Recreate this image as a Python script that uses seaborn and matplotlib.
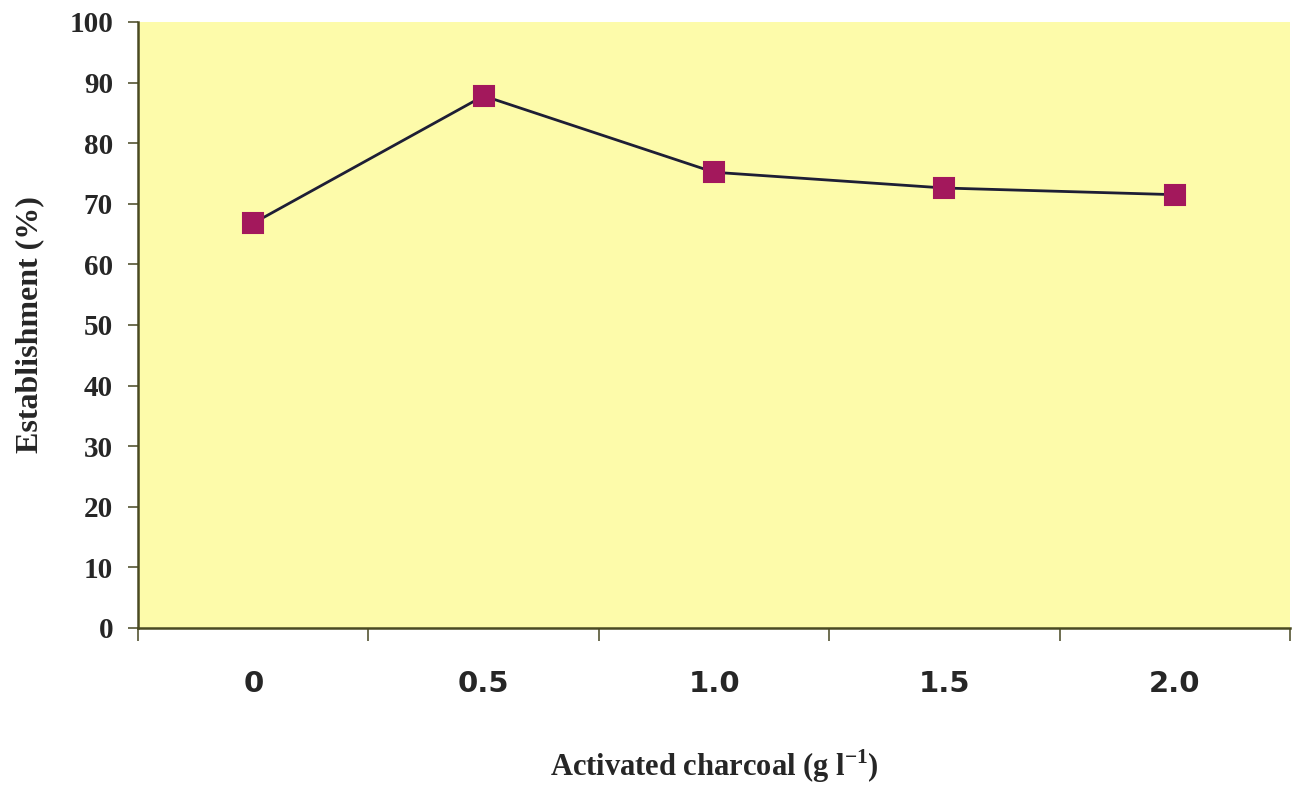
import matplotlib
matplotlib.use("Agg")
import matplotlib.pyplot as plt
import seaborn as sns
import pandas as pd
import numpy as np

categories = ["0", "0.5", "1.0", "1.5", "2.0"]
establishment = [66.8, 87.8, 75.2, 72.6, 71.5]
yticks = [0, 10, 20, 30, 40, 50, 60, 70, 80, 90, 100]

sns.set_style("white")
plt.rcParams['font.family'] = ['Liberation Serif', 'DejaVu Serif']

df = pd.DataFrame({"charcoal": categories, "est": establishment})

fig = plt.figure(figsize=(12.95, 7.93), dpi=100)
ax = fig.add_axes([0.1066, 0.2081, 0.8896, 0.7642])
ax.set_facecolor("#FDFBAA")

sns.pointplot(data=df, x="charcoal", y="est", order=categories, ax=ax,
              color="#1E1E35", markers="s", linestyles="-",
              markersize=15, linewidth=2.0,
              errorbar=None)
for coll in ax.collections:
    coll.set_facecolor("#A3185C")
    coll.set_edgecolor("#A3185C")
for line in ax.lines:
    line.set_markerfacecolor("#A3185C")
    line.set_markeredgecolor("#A3185C")

ax.set_xlim(-0.5, 4.5)
ax.set_ylim(0, 100)
ax.set_yticks(yticks)
ax.set_yticklabels([str(t) for t in yticks], fontsize=21, fontweight="bold",
                   family="Liberation Serif")
ax.set_xticks(range(len(categories)))
ax.set_xticklabels(categories, fontsize=21, fontweight="bold", family="DejaVu Sans")
ax.set_xticks(np.arange(-0.5, len(categories), 1.0), minor=True)
ax.tick_params(axis="x", which="major", length=0, pad=30)
ax.tick_params(axis="x", which="minor", length=9, width=1.2, color="#555533", direction="out", bottom=True)
ax.tick_params(axis="y", which="major", length=7, width=1.2, color="#555533", direction="out", left=True, pad=11)

for s in ["top", "right"]:
    ax.spines[s].set_visible(False)
for s in ["left", "bottom"]:
    ax.spines[s].set_color("#4A4A22")
    ax.spines[s].set_linewidth(1.8)

ax.set_xlabel("Activated charcoal (g l$^{\\mathregular{-1}}$)", fontsize=22, fontweight="bold", labelpad=36)
ax.set_ylabel("Establishment (%)", fontsize=23, fontweight="bold", labelpad=18)

fig.savefig("out.png", dpi=100, facecolor="white")
